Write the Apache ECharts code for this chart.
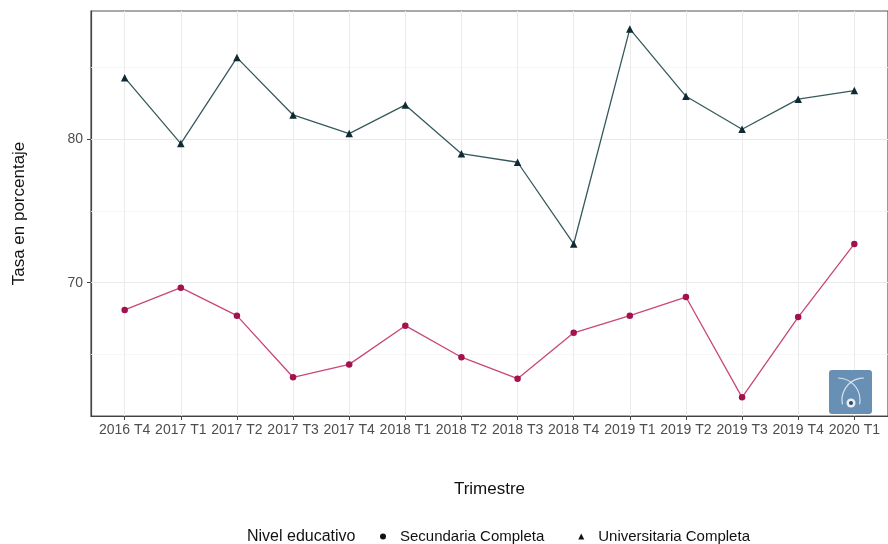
<!DOCTYPE html>
<html>
<head>
<meta charset="utf-8">
<script src="https://cdn.jsdelivr.net/npm/echarts@6/dist/echarts.min.js"></script>
<style>html,body{margin:0;padding:0;background:#fff}#c{width:888px;height:544px}</style>
</head>
<body>
<div id="c"></div>
<script>
const categories = ['2016 T4','2017 T1','2017 T2','2017 T3','2017 T4','2018 T1','2018 T2','2018 T3','2018 T4','2019 T1','2019 T2','2019 T3','2019 T4','2020 T1'];
const secundaria = [68.1, 69.65, 67.7, 63.4, 64.3, 67.0, 64.8, 63.3, 66.5, 67.7, 69.0, 62.0, 67.6, 72.7];
const universitaria = [84.3, 79.7, 85.7, 81.7, 80.4, 82.4, 79.0, 78.4, 72.7, 87.7, 83.0, 80.7, 82.8, 83.4];
const yTicks = [70, 80];
const yMinor = [65, 75, 85];
const seriesNames = ['Secundaria Completa', 'Universitaria Completa'];

const idx = categories.map((c, i) => i);
const font = 'Liberation Sans, Arial, sans-serif';
const chart = echarts.init(document.getElementById('c'), null, {renderer: 'canvas'});

const gridLines = [
  ...yMinor.map(v => ({yAxis: v, lineStyle: {color: '#f5f5f5', width: 0.8, type: 'solid'}})),
  ...yTicks.map(v => ({yAxis: v, lineStyle: {color: '#e9e9e9', width: 1, type: 'solid'}})),
  ...idx.map(i => ({xAxis: i, lineStyle: {color: '#ebebeb', width: 1, type: 'solid'}}))
];

chart.setOption({
  animation: false,
  backgroundColor: '#fff',
  textStyle: {fontFamily: font},
  title: {
    text: 'Nivel educativo', left: 242, top: 524,
    textStyle: {fontSize: 16, fontWeight: 'normal', color: '#111', fontFamily: font}
  },
  legend: {
    left: 375, top: 524,
    itemWidth: 6, itemHeight: 6, itemGap: 34,
    textStyle: {fontSize: 15, color: '#111', fontFamily: font, padding: [0, 0, 0, 9]},
    data: [
      {name: seriesNames[0], icon: 'circle', itemStyle: {color: '#111'}},
      {name: seriesNames[1], icon: 'triangle', itemStyle: {color: '#111'}}
    ]
  },
  grid: {
    left: 91, top: 11, width: 809, height: 405,
    show: true, borderColor: '#555', borderWidth: 1.2, backgroundColor: 'transparent'
  },
  xAxis: {
    type: 'value', min: -0.6, max: 13.6,
    name: 'Trimestre', nameLocation: 'middle', nameGap: 65,
    nameTextStyle: {fontSize: 17, color: '#111', fontFamily: font},
    axisLine: {show: true, onZero: false, lineStyle: {color: '#444', width: 1.2}},
    axisTick: {show: true, customValues: idx, length: 4, lineStyle: {color: '#444'}},
    axisLabel: {
      customValues: idx, margin: 7, fontSize: 14, color: '#4d4d4d', fontFamily: font,
      formatter: v => categories[Math.round(v)]
    },
    splitLine: {show: false}
  },
  yAxis: {
    type: 'value', min: 60.7, max: 88.95,
    name: 'Tasa en porcentaje', nameLocation: 'middle', nameGap: 63, nameRotate: 90,
    nameTextStyle: {fontSize: 17, color: '#111', fontFamily: font},
    axisLine: {show: true, onZero: false, lineStyle: {color: '#444', width: 1.2}},
    axisTick: {show: true, customValues: yTicks, length: 4, lineStyle: {color: '#444'}},
    axisLabel: {customValues: yTicks, margin: 8, fontSize: 14, color: '#4d4d4d', fontFamily: font},
    splitLine: {show: false}
  },
  series: [
    {
      name: 'grid', type: 'line', z: 1, silent: true, symbol: 'none',
      data: idx.map(i => [i, secundaria[i]]), lineStyle: {opacity: 0},
      markLine: {silent: true, z: 1, symbol: 'none', label: {show: false}, data: gridLines, animation: false}
    },
    {
      name: seriesNames[0], type: 'line', z: 3,
      data: idx.map(i => [i, secundaria[i]]),
      symbol: 'circle', symbolSize: 6.5,
      lineStyle: {color: '#c9467a', width: 1.3},
      itemStyle: {color: '#a3124f'}
    },
    {
      name: seriesNames[1], type: 'line', z: 3,
      data: idx.map(i => [i, universitaria[i]]),
      symbol: 'triangle', symbolSize: 7.5,
      lineStyle: {color: '#365a5c', width: 1.3},
      itemStyle: {color: '#0f2a33'}
    }
  ],
  graphic: [
    {type: 'rect', left: 829, top: 370, shape: {width: 43, height: 44, r: 3}, style: {fill: '#6890b5'}, z: 10},
    {type: 'arc', shape: {cx: 838, cy: 400, r: 22, startAngle: -Math.PI * 0.5, endAngle: 0.2}, style: {stroke: 'rgba(255,255,255,0.75)', lineWidth: 1.2, fill: null}, z: 11},
    {type: 'arc', shape: {cx: 864, cy: 400, r: 22, startAngle: Math.PI - 0.2, endAngle: Math.PI * 1.5}, style: {stroke: 'rgba(255,255,255,0.75)', lineWidth: 1.2, fill: null}, z: 11},
    {type: 'circle', shape: {cx: 851, cy: 403, r: 4.5}, style: {fill: 'rgba(255,255,255,0.85)'}, z: 11},
    {type: 'circle', shape: {cx: 851, cy: 403, r: 2}, style: {fill: '#2a4a66'}, z: 12}
  ]
});
</script>
</body>
</html>
